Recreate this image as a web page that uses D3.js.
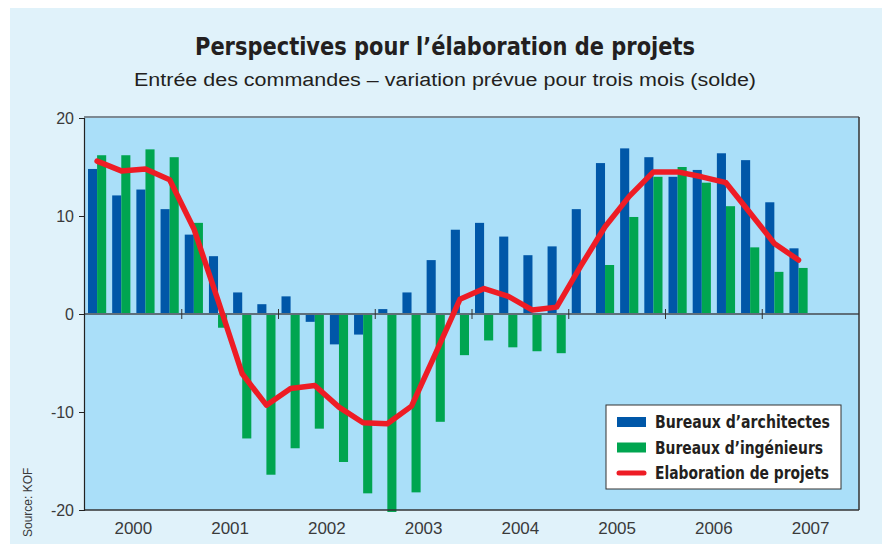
<!DOCTYPE html>
<html>
<head>
<meta charset="utf-8">
<script src="https://cdn.jsdelivr.net/npm/d3@7"></script>
<style>
  body { margin: 0; background: #ffffff; }
  svg { display: block; }
</style>
</head>
<body>
<div id="chart"></div>
<script>
//Width and height
var w = 882;
var h = 544;

//Data: quarterly balances, 2000 Q1 - 2007 Q2
var years = [2000, 2001, 2002, 2003, 2004, 2005, 2006, 2007];
var quarterNames = ["T1", "T2", "T3", "T4"];
var yTicks = [-20, -10, 0, 10, 20];

var architectes = [14.8, 12.1, 12.7, 10.7, 8.1, 5.9, 2.2, 1.0, 1.8, -0.8, -3.1, -2.1, 0.5, 2.2, 5.5, 8.6,
    9.3, 7.9, 6.0, 6.9, 10.7, 15.4, 16.9, 16.0, 14.0, 14.7, 16.4, 15.7, 11.4, 6.7];
var ingenieurs = [16.2, 16.2, 16.8, 16.0, 9.3, -1.4, -12.7, -16.4, -13.7, -11.7, -15.1, -18.3, -20.2, -18.2, -11.0, -4.2,
    -2.7, -3.4, -3.8, -4.0, 0.0, 5.0, 9.9, 14.0, 15.0, 13.4, 11.0, 6.8, 4.3, 4.7];
var projets = [15.6, 14.6, 14.8, 13.7, 8.7, 1.4, -6.1, -9.3, -7.6, -7.3, -9.5, -11.1, -11.2, -9.4, -4.0, 1.5,
    2.6, 1.8, 0.4, 0.7, 4.9, 8.9, 12.0, 14.5, 14.5, 14.0, 13.4, 10.3, 7.2, 5.5];

var seriesNames = ["Bureaux d\u2019architectes", "Bureaux d\u2019ing\u00e9nieurs", "Elaboration de projets"];
var colors = ["#0057a8", "#00a550", "#ee1c25"];

//All quarter slots of the axis (the last two of 2007 stay empty)
var slots = [];
years.forEach(function (y) {
    quarterNames.forEach(function (q) { slots.push(y + q); });
});

var rows = architectes.map(function (a, i) {
    return { q: slots[i], a: a, g: ingenieurs[i], p: projets[i] };
});

//Plot area
var plotLeft = 84, plotRight = 859, plotTop = 117, plotBottom = 510;

var x = d3.scaleBand()
    .domain(slots)
    .range([plotLeft + 1, plotRight]);

var xYear = d3.scaleBand()
    .domain(years)
    .range([plotLeft + 1, plotRight]);

var xSub = d3.scaleBand()
    .domain(["a", "g"])
    .range([3, x.bandwidth() - 3]);

var y = d3.scaleLinear()
    .domain([-20, 20])
    .range([plotBottom, plotTop + 1]);

//Create SVG element
var svg = d3.select("#chart")
    .append("svg")
    .attr("width", w)
    .attr("height", h);

//Outer panel
svg.append("rect")
    .attr("x", 10).attr("y", 8)
    .attr("width", w - 10).attr("height", h - 8)
    .attr("fill", "#e0f2fa");

//Plot background
svg.append("rect")
    .attr("x", plotLeft).attr("y", plotTop)
    .attr("width", plotRight - plotLeft).attr("height", plotBottom - plotTop)
    .attr("fill", "#aadff9");

//Title
svg.append("text")
    .attr("x", 445).attr("y", 55)
    .attr("text-anchor", "middle")
    .attr("textLength", 500)
    .attr("lengthAdjust", "spacingAndGlyphs")
    .style("font-family", "'Liberation Sans Narrow', 'DejaVu Sans Condensed', sans-serif")
    .style("font-weight", "bold")
    .style("font-size", "25px")
    .style("fill", "#231f20")
    .text("Perspectives pour l\u2019\u00e9laboration de projets");

svg.append("text")
    .attr("x", 445).attr("y", 86)
    .attr("text-anchor", "middle")
    .attr("textLength", 622)
    .attr("lengthAdjust", "spacingAndGlyphs")
    .style("font-family", "'Liberation Sans', Arial, sans-serif")
    .style("font-size", "18px")
    .style("fill", "#231f20")
    .text("Entr\u00e9e des commandes \u2013 variation pr\u00e9vue pour trois mois (solde)");

//Bars
var groups = svg.append("g").selectAll("g")
    .data(rows)
    .enter()
    .append("g")
    .attr("transform", function (d) { return "translate(" + x(d.q) + ",0)"; });

groups.append("rect")
    .attr("x", xSub("a"))
    .attr("width", xSub.bandwidth())
    .attr("y", function (d) { return y(Math.max(0, d.a)); })
    .attr("height", function (d) { return Math.abs(y(d.a) - y(0)); })
    .attr("fill", colors[0]);

groups.append("rect")
    .attr("x", xSub("g"))
    .attr("width", xSub.bandwidth())
    .attr("y", function (d) { return y(Math.max(0, d.g)); })
    .attr("height", function (d) { return Math.abs(y(d.g) - y(0)); })
    .attr("fill", colors[1]);

//Zero line with year ticks
svg.append("line")
    .attr("x1", plotLeft).attr("x2", plotRight)
    .attr("y1", y(0)).attr("y2", y(0))
    .attr("stroke", "#5f6f7a")
    .attr("stroke-width", 2);

svg.append("g").selectAll("line")
    .data(years.slice(1))
    .enter()
    .append("line")
    .attr("x1", function (d) { return xYear(d); })
    .attr("x2", function (d) { return xYear(d); })
    .attr("y1", y(0) - 5).attr("y2", y(0) + 5)
    .attr("stroke", "#333")
    .attr("stroke-width", 1);

//Frame
svg.append("line")
    .attr("x1", plotLeft).attr("x2", plotRight)
    .attr("y1", plotTop).attr("y2", plotTop)
    .attr("stroke", "#7d8a93").attr("stroke-width", 2);
svg.append("line")
    .attr("x1", plotRight).attr("x2", plotRight)
    .attr("y1", plotTop).attr("y2", plotBottom)
    .attr("stroke", "#333").attr("stroke-width", 1.5);
svg.append("line")
    .attr("x1", plotLeft).attr("x2", plotRight)
    .attr("y1", plotBottom).attr("y2", plotBottom)
    .attr("stroke", "#333").attr("stroke-width", 1.5);

//Y axis
var yAxis = d3.axisLeft(y)
    .tickValues(yTicks)
    .tickFormat(function (d) { return String(d); })
    .tickSize(5)
    .tickPadding(5);

var gy = svg.append("g")
    .attr("transform", "translate(" + plotLeft + ",0)")
    .call(yAxis);
gy.select(".domain").attr("stroke", "#222").attr("stroke-width", 1.2);
gy.selectAll(".tick line").attr("stroke", "#222");
gy.selectAll(".tick text")
    .style("font-family", "'Liberation Sans', Arial, sans-serif")
    .style("font-size", "16px")
    .style("fill", "#3a3a3a");

//Year labels
svg.append("g").selectAll("text")
    .data(years)
    .enter()
    .append("text")
    .attr("x", function (d) { return xYear(d) + xYear.bandwidth() / 2; })
    .attr("y", 534)
    .attr("text-anchor", "middle")
    .style("font-family", "'Liberation Sans', Arial, sans-serif")
    .style("font-size", "17px")
    .style("fill", "#3a3a3a")
    .text(function (d) { return d; });

//Red line
var line = d3.line()
    .x(function (d) { return x(d.q) + x.bandwidth() / 2; })
    .y(function (d) { return y(d.p); });

svg.append("path")
    .datum(rows)
    .attr("d", line)
    .attr("fill", "none")
    .attr("stroke", colors[2])
    .attr("stroke-width", 5.5)
    .attr("stroke-linejoin", "round")
    .attr("stroke-linecap", "round");

//Legend
var legend = svg.append("g");
legend.append("rect")
    .attr("x", 606).attr("y", 405)
    .attr("width", 235).attr("height", 84)
    .attr("fill", "#ffffff")
    .attr("stroke", "#333")
    .attr("stroke-width", 1);

var legendRows = legend.selectAll("g")
    .data(seriesNames)
    .enter()
    .append("g")
    .attr("transform", function (d, i) { return "translate(617," + (422 + i * 25.5) + ")"; });

legendRows.filter(function (d, i) { return i < 2; })
    .append("rect")
    .attr("x", 0).attr("y", -5)
    .attr("width", 29).attr("height", 10)
    .attr("fill", function (d, i) { return colors[i]; });

legendRows.filter(function (d, i) { return i == 2; })
    .append("line")
    .attr("x1", 2).attr("x2", 27)
    .attr("stroke", colors[2])
    .attr("stroke-width", 5)
    .attr("stroke-linecap", "round");

legendRows.append("text")
    .attr("x", 38).attr("y", 6)
    .attr("textLength", function (d, i) { return [175, 168, 174][i]; })
    .attr("lengthAdjust", "spacingAndGlyphs")
    .style("font-family", "'Liberation Sans Narrow', 'DejaVu Sans Condensed', sans-serif")
    .style("font-weight", "bold")
    .style("font-size", "17px")
    .style("fill", "#231f20")
    .text(function (d) { return d; });

//Source
svg.append("text")
    .attr("transform", "translate(32,537) rotate(-90)")
    .style("font-family", "'Liberation Sans', Arial, sans-serif")
    .style("font-size", "12px")
    .style("fill", "#3a3a3a")
    .text("Source: KOF");
</script>
</body>
</html>
